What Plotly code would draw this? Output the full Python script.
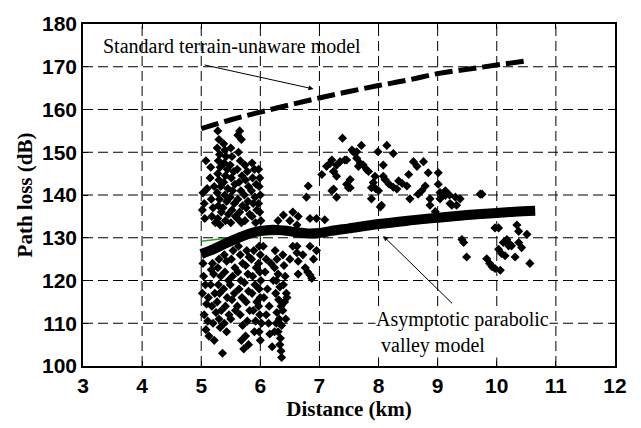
import plotly.graph_objects as go

# ---------------- data ----------------
std_x = [5.0, 5.5, 6.0, 6.5, 7.0, 7.5, 8.0, 8.5, 9.0, 9.5, 10.0, 10.55]
std_y = [155.5, 157.6, 159.4, 161.1, 162.7, 164.2, 165.6, 166.9, 168.4, 169.4, 170.4, 171.5]

band_x = [5.0, 5.2, 5.4, 5.6, 5.8, 6.0, 6.2, 6.4, 6.6, 6.8, 7.0, 7.2, 7.5, 8.0, 8.5, 9.0, 9.5, 10.0, 10.3, 10.65]
band_y = [126.2, 127.3, 128.6, 129.8, 130.9, 131.6, 131.9, 131.7, 131.3, 131.0, 131.1, 131.6, 132.2, 133.2, 134.0, 134.7, 135.3, 135.8, 136.1, 136.3]

fit_x = [5.0, 5.5, 6.0, 7.0, 8.0, 9.0, 10.0, 10.6]
fit_y = [129.2, 130.0, 130.6, 131.3, 132.5, 133.8, 135.0, 135.8]

meas_x = [
    5.03, 5.05, 5.02, 5.08, 5.06, 5.10, 5.04, 5.07, 5.02, 5.09, 5.05, 5.11, 5.08, 5.13, 5.03, 5.12,
    5.15, 5.17, 5.20, 5.18, 5.22, 5.16, 5.24, 5.19, 5.21, 5.16, 5.23, 5.18, 5.25, 5.20, 5.22, 5.17,
    5.28, 5.30, 5.27, 5.31, 5.29, 5.32, 5.28, 5.30, 5.33, 5.27, 5.31, 5.29, 5.34, 5.28, 5.32, 5.30,
    5.28, 5.33, 5.29, 5.31, 5.27, 5.34, 5.30, 5.32, 5.36,
    5.38, 5.40, 5.42, 5.39, 5.44, 5.41, 5.38, 5.45, 5.40, 5.43, 5.37, 5.46, 5.41, 5.39, 5.43, 5.40,
    5.46, 5.38, 5.44, 5.41, 5.47, 5.39, 5.43,
    5.50, 5.52, 5.49, 5.55, 5.51, 5.57, 5.53, 5.49, 5.56, 5.52, 5.58, 5.50, 5.54, 5.51, 5.57, 5.53,
    5.49, 5.56, 5.52, 5.58, 5.50,
    5.62, 5.65, 5.68, 5.63, 5.66, 5.61, 5.69, 5.64, 5.67, 5.62, 5.70, 5.65, 5.61, 5.68, 5.63, 5.66,
    5.70, 5.62, 5.67, 5.64, 5.69, 5.61, 5.66, 5.70, 5.68, 5.72,
    5.74, 5.78, 5.75, 5.80, 5.73, 5.79, 5.76, 5.82, 5.74, 5.77, 5.81, 5.75, 5.79, 5.73, 5.80, 5.76,
    5.82, 5.78, 5.75, 5.80,
    5.86, 5.90, 5.87, 5.93, 5.85, 5.91, 5.88, 5.94, 5.86, 5.92, 5.89, 5.85, 5.93, 5.87, 5.91, 5.86,
    5.94, 5.88, 5.92, 5.90,
    5.97, 5.99, 5.98, 6.00, 5.97, 5.99, 6.01, 5.98, 6.00, 5.97, 5.99, 6.01, 5.98, 6.00, 5.97, 5.99,
    6.02, 5.98, 6.00,
    6.05, 6.10, 6.08, 6.12, 6.10, 6.06, 6.15, 6.16, 6.20, 6.18, 6.14, 6.22,
    6.25, 6.28, 6.24, 6.30, 6.27, 6.33, 6.26, 6.31, 6.35, 6.28, 6.32, 6.36, 6.30, 6.34, 6.33, 6.35,
    6.36, 6.38, 6.40, 6.42, 6.39, 6.44, 6.41, 6.45, 6.38, 6.43, 6.27, 6.24,
    6.39, 6.50, 6.64, 6.62, 6.78, 6.81, 6.84, 6.95, 7.04, 7.09, 6.30, 6.55,
    6.55, 6.62, 6.64, 6.64, 6.62, 6.76, 6.80, 6.84, 6.87, 6.90, 6.84, 6.72, 6.95, 6.50,
    7.12, 7.18, 7.21, 7.24, 7.29, 7.29, 7.35, 7.39, 7.43, 7.46, 7.52, 7.21, 7.29, 7.46, 7.24, 7.49,
    7.52, 7.55, 7.58, 7.63, 7.63, 7.71, 7.66, 7.69, 7.74, 7.80, 7.83, 7.88, 7.94, 7.99, 8.05, 7.91,
    7.95, 8.00, 8.08, 8.08, 8.14, 8.25, 8.11, 8.18, 8.25, 8.31, 8.34, 8.40, 8.48, 8.51, 8.59, 8.65,
    8.76, 8.84, 9.01, 9.01, 8.79, 8.73, 8.67, 8.53, 7.88, 8.03, 8.87, 9.04, 9.13, 9.20, 9.30, 9.38,
    7.24, 8.87, 8.96, 9.04, 9.13, 9.21, 9.72, 9.24, 9.32,
    9.41, 9.44, 9.49, 9.83, 9.88, 9.92, 9.97, 10.06, 10.03, 10.08, 10.14, 10.17, 10.22, 10.25, 10.31, 10.37,
    10.42, 10.34, 10.37, 10.51, 10.56, 9.97, 10.03, 9.75, 10.11, 10.20,
]
meas_y = [
    140.5, 138.0, 136.5, 148.0, 134.5, 141.5, 121.0, 119.0, 117.0, 114.5, 112.0, 110.5, 108.5, 107.0, 124.0, 116.0,
    144.0, 139.0, 137.0, 135.0, 142.0, 146.5, 133.5, 124.0, 121.5, 119.0, 117.0, 114.0, 112.5, 110.0, 106.0, 122.5,
    155.0, 153.0, 151.0, 149.5, 148.0, 146.5, 145.0, 143.5, 142.0, 140.5, 139.0, 137.5, 136.0, 134.5, 133.0, 125.0,
    123.0, 121.0, 119.0, 117.0, 115.0, 113.0, 111.0, 109.0, 103.0,
    152.0, 150.5, 149.0, 147.5, 146.0, 144.5, 143.0, 141.5, 140.0, 138.5, 137.0, 135.5, 134.0, 126.0, 124.5, 122.0,
    120.0, 118.0, 116.0, 114.0, 112.0, 110.0, 108.0,
    151.0, 149.0, 147.0, 145.5, 144.0, 142.5, 141.0, 139.5, 138.0, 136.5, 135.0, 133.5, 127.0, 125.0, 123.0, 121.0,
    119.0, 117.0, 115.5, 113.0, 111.0,
    154.0, 155.0, 153.0, 150.0, 148.0, 146.0, 144.5, 143.0, 141.0, 139.0, 137.5, 136.0, 134.5, 133.5, 128.0, 126.0,
    124.0, 122.0, 120.0, 118.0, 116.0, 114.0, 112.0, 109.5, 106.0, 104.0,
    147.0, 145.5, 143.5, 142.0, 140.0, 138.5, 137.0, 135.5, 134.0, 127.0, 125.5, 123.5, 121.5, 119.5, 117.5, 115.0,
    113.0, 110.5, 107.0, 105.0,
    147.5, 146.0, 144.0, 142.5, 141.0, 139.5, 138.0, 136.5, 135.0, 133.5, 127.0, 125.0, 123.0, 121.0, 119.0, 117.0,
    115.0, 113.0, 110.5, 108.0,
    146.0, 144.0, 142.0, 140.0, 138.0, 136.0, 134.0, 128.0, 126.0, 124.0, 122.0, 120.0, 118.0, 116.0, 114.0, 112.0,
    110.0, 108.0, 106.0,
    128.0, 125.0, 122.0, 118.0, 112.0, 116.0, 114.0, 107.5, 104.5, 124.0, 110.0, 120.0,
    127.0, 125.0, 123.0, 121.5, 120.0, 118.5, 117.0, 115.5, 114.0, 112.5, 111.0, 109.5, 108.0, 106.5, 105.0, 103.5,
    102.0, 126.0, 123.5, 121.0, 119.0, 117.0, 115.0, 116.0, 113.0, 111.0, 110.0, 108.0,
    135.3, 134.0, 135.0, 133.0, 139.5, 142.1, 134.5, 134.5, 144.8, 134.2, 134.0, 136.0,
    128.0, 128.0, 124.5, 121.5, 126.5, 123.0, 122.0, 121.3, 120.5, 125.0, 128.0, 126.0, 127.0, 125.0,
    146.7, 147.4, 148.2, 145.5, 147.0, 144.4, 147.8, 153.3, 148.2, 148.2, 141.7, 141.0, 139.5, 142.5, 141.4, 141.7,
    143.6, 150.5, 150.0, 148.6, 150.1, 151.6, 146.7, 147.4, 147.0, 145.9, 145.5, 141.7, 144.4, 150.1, 137.6, 142.9,
    141.5, 141.0, 147.0, 144.4, 151.6, 149.7, 143.6, 142.5, 141.8, 141.4, 143.3, 142.7, 142.1, 144.8, 147.8, 146.7,
    147.8, 145.2, 145.2, 142.5, 142.1, 141.0, 140.2, 139.1, 139.1, 137.2, 139.1, 139.1, 141.0, 140.0, 139.5, 139.1,
    145.5, 137.6, 136.1, 140.6, 139.9, 138.0, 140.2, 137.6, 137.6,
    129.6, 128.9, 125.5, 125.1, 124.0, 123.2, 122.8, 122.4, 127.3, 126.3, 125.8, 129.6, 128.5, 128.1, 125.5, 128.9,
    127.7, 133.0, 131.5, 130.8, 124.0, 132.3, 132.3, 140.2, 128.9, 128.1,
]

x_ticks = [3, 4, 5, 6, 7, 8, 9, 10, 11, 12]
y_ticks = [100, 110, 120, 130, 140, 150, 160, 170, 180]

# ---------------- figure ----------------
fig = go.Figure()

# dashed grid built from the tick arrays (interior ticks only)
grid_line = dict(color="black", width=1, dash="10px,5px")
for xv in x_ticks[1:-1]:
    fig.add_shape(type="line", xref="x", yref="paper", x0=xv, x1=xv, y0=0, y1=1,
                  line=grid_line, layer="below")
for yv in y_ticks[1:-1]:
    fig.add_shape(type="line", xref="paper", yref="y", x0=0, x1=1, y0=yv, y1=yv,
                  line=grid_line, layer="below")

fig.add_trace(go.Scatter(x=meas_x, y=meas_y, mode="markers",
                         marker=dict(symbol="diamond", size=7, color="black", line=dict(width=0)),
                         showlegend=False, hoverinfo="skip"))
fig.add_trace(go.Scatter(x=fit_x, y=fit_y, mode="lines",
                         line=dict(color="#2ca02c", width=1.5), showlegend=False))
fig.add_trace(go.Scatter(x=band_x, y=band_y, mode="lines",
                         line=dict(color="black", width=10, shape="spline"), showlegend=False))
fig.add_trace(go.Scatter(x=std_x, y=std_y, mode="lines",
                         line=dict(color="black", width=5, dash="18px,6px", shape="spline"),
                         showlegend=False))

ann_font = dict(family="Liberation Serif, Times New Roman, serif", size=20, color="black")
fig.add_annotation(x=5.52, y=174.8, text="Standard terrain-unaware model", showarrow=False,
                   font=ann_font, xanchor="center", yanchor="middle")
fig.add_annotation(x=6.90, y=164.8, ax=5.03, ay=170.5, xref="x", yref="y", axref="x", ayref="y",
                   text="", showarrow=True, arrowhead=2, arrowsize=1, arrowwidth=1, arrowcolor="black")
fig.add_annotation(x=7.94, y=107.8, text="Asymptotic parabolic<br> valley model", showarrow=False,
                   font=ann_font, xanchor="left", yanchor="middle", align="left",
                   bgcolor="white", borderpad=0)
fig.add_annotation(x=8.08, y=130.4, ax=9.27, ay=114.3, xref="x", yref="y", axref="x", ayref="y",
                   text="", showarrow=True, arrowhead=2, arrowsize=1, arrowwidth=1, arrowcolor="black")

tick_font = dict(family="Liberation Sans, Arial, sans-serif", size=21, color="black", weight="bold")
title_font = dict(family="Liberation Serif, Times New Roman, serif", size=21, color="black", weight="bold")
common = dict(showgrid=False,
              showline=True, linecolor="black", linewidth=1.5, mirror="ticks",
              ticks="inside", ticklen=5, tickwidth=1, tickcolor="black",
              tickfont=tick_font, zeroline=False)

fig.update_xaxes(range=[3, 12], tickvals=x_ticks,
                 title=dict(text="Distance (km)", font=title_font, standoff=4), **common)
fig.update_yaxes(range=[100, 180], tickvals=y_ticks,
                 title=dict(text="Path loss (dB)", font=title_font, standoff=4), **common)

fig.update_layout(width=641, height=428, margin=dict(l=83, r=26, t=15, b=61),
                  paper_bgcolor="white", plot_bgcolor="white", showlegend=False)

fig.write_html("out.html")
